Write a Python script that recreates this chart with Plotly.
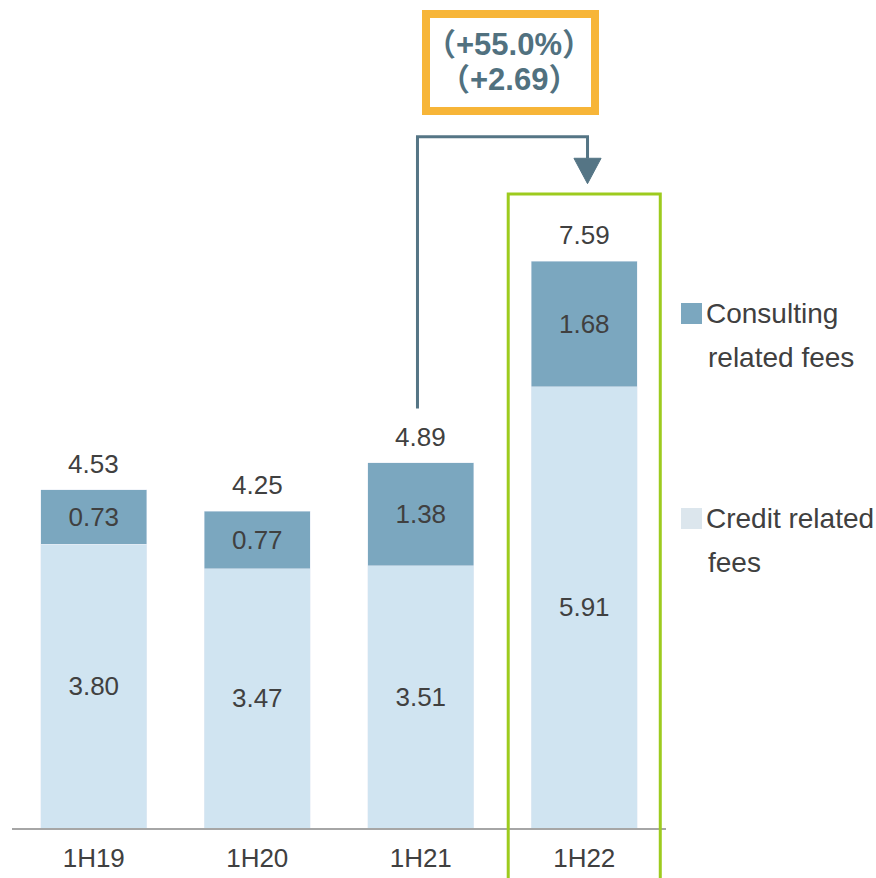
import plotly.graph_objects as go

categories = ["1H19", "1H20", "1H21", "1H22"]
credit_fees = [3.80, 3.47, 3.51, 5.91]
consulting_fees = [0.73, 0.77, 1.38, 1.68]
totals = [4.53, 4.25, 4.89, 7.59]
growth_lines = ["<b>（+55.0%）</b>", "<b>（+2.69）</b>"]
legend_names = [["Consulting", "related fees"], ["Credit related", "fees"]]

C_CONS = "#7BA7BF"
C_CRED = "#D0E4F1"
TXT = "#404040"
FONT = "Liberation Sans, Arial, sans-serif"

W, H = 876, 878
ML, MR, MT, MB = 12, 210, 0, 50
PW = W - ML - MR
PH = H - MT - MB
YMAX = 11.09


def pxx(px):
    return (px - ML) / PW


def pxy(py):
    return (H - MB - py) / PH


fig = go.Figure()
fig.add_trace(go.Bar(
    x=categories, y=credit_fees, name="Credit related fees", marker_color=C_CRED,
    text=[f"{v:.2f}" for v in credit_fees], textposition="inside", insidetextanchor="middle",
    textfont=dict(size=26, color=TXT, family=FONT), showlegend=False,
))
fig.add_trace(go.Bar(
    x=categories, y=consulting_fees, name="Consulting related fees", marker_color=C_CONS,
    text=[f"{v:.2f}" for v in consulting_fees], textposition="inside", insidetextanchor="middle",
    textfont=dict(size=26, color=TXT, family=FONT), showlegend=False,
))

for c, t in zip(categories, totals):
    fig.add_annotation(x=c, y=t, text=f"{t:.2f}", showarrow=False, yanchor="middle",
                       yshift=26, font=dict(size=26, color=TXT, family=FONT))

# highlight frame around last period
i_last = len(categories) - 1
fig.add_shape(type="rect", xref="paper", yref="paper",
              x0=(i_last + 0.5 - 0.465) / len(categories), x1=(i_last + 0.5 + 0.465) / len(categories),
              y0=pxy(900), y1=pxy(194),
              line=dict(color="#9DCB1E", width=3), fillcolor="rgba(0,0,0,0)", layer="above")

# connector arrow from 1H21 to 1H22
AC = "#557585"
xl = 2 - 0.02
xr = 3 + 0.02
y_low = totals[2] + 0.73
y_top = 9.26
y_base = 8.97
y_tip = 8.63
fig.add_shape(type="path", xref="x", yref="y",
              path=f"M {xl} {y_low} L {xl} {y_top} L {xr} {y_top} L {xr} {y_base}",
              line=dict(color=AC, width=3))
hw = 0.083
fig.add_shape(type="path", xref="x", yref="y",
              path=f"M {xr-hw} {y_base} L {xr+hw} {y_base} L {xr} {y_tip} Z",
              line=dict(color=AC, width=1), fillcolor=AC)

# growth box
fig.add_shape(type="rect", xref="paper", yref="paper",
              x0=pxx(426), x1=pxx(595), y0=pxy(111), y1=pxy(14),
              line=dict(color="#F7B538", width=8), fillcolor="white")
for k, (ln, yc) in enumerate(zip(growth_lines, [44, 80])):
    fig.add_annotation(xref="paper", yref="paper", x=pxx(509), y=pxy(yc), text=ln,
                       showarrow=False, xanchor="center", yanchor="middle",
                       font=dict(size=31, color="#51717F", family="Liberation Sans, Noto Sans CJK JP"))

# custom legend
leg = [(C_CONS, 303, legend_names[0]), ("#DCE6ED", 508, legend_names[1])]
for col, ytop, lines in leg:
    fig.add_shape(type="rect", xref="paper", yref="paper",
                  x0=pxx(681), x1=pxx(702), y0=pxy(ytop + 21), y1=pxy(ytop),
                  line=dict(width=0), fillcolor=col)
    for k, ln in enumerate(lines):
        fig.add_annotation(xref="paper", yref="paper", x=pxx(704 + 2 * k), y=pxy(ytop + 10 + 44 * k),
                           text=ln, showarrow=False, xanchor="left", yanchor="middle",
                           font=dict(size=28, color=TXT, family=FONT))

fig.update_layout(
    width=W, height=H, margin=dict(l=ML, r=MR, t=MT, b=MB),
    barmode="stack", bargap=0.354,
    plot_bgcolor="white", paper_bgcolor="white",
    uniformtext=dict(minsize=26, mode="show"),
    showlegend=False,
    font=dict(family=FONT, color=TXT),
)
fig.update_xaxes(showline=True, linecolor="#A6A6A6", linewidth=2, ticks="",
                 tickfont=dict(size=26, color=TXT, family=FONT), showgrid=False,
                 range=[-0.5, 3.5], ticklabelstandoff=6)
fig.update_yaxes(range=[0, YMAX], visible=False, showgrid=False)

fig.write_html("out.html")
